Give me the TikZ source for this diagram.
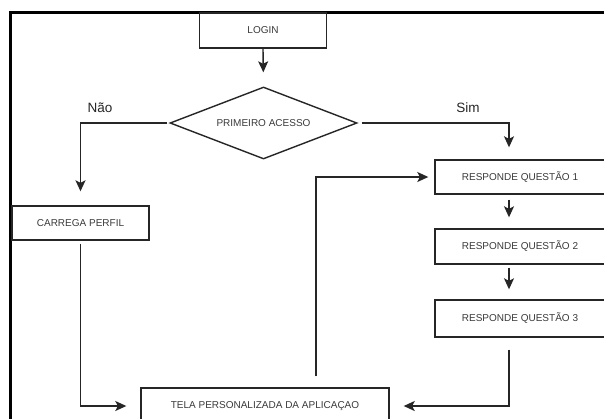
\documentclass[tikz,border=0pt]{standalone}
\usepackage{fontspec}
\setmainfont{Liberation Sans}
\usepackage{xcolor}
\usepackage{tikz}
\usetikzlibrary{arrows.meta,shapes.geometric}
\definecolor{inkline}{HTML}{262626}
\definecolor{inktext}{HTML}{3A3A3A}
\tikzset{
  box/.style={draw=inkline, fill=white, line width=1.4pt, align=center, inner sep=0pt, text=inktext, font=\fontsize{10}{12}\selectfont},
  decision/.style={diamond, draw=inkline, fill=white, line width=1.4pt, inner sep=0pt, aspect=2.6, text=inktext, font=\fontsize{10}{12}\selectfont, minimum width=187pt, minimum height=72pt},
  answer/.style={font=\fontsize{13.5}{15}\selectfont, text=black!85},
  flow/.style={-{Stealth[length=11pt,width=10pt,inset=2.5pt]}, line width=1.4pt, draw=inkline},
  frame/.style={line width=3pt, draw=black}
}

\begin{document}
\begin{tikzpicture}[x=1pt,y=-1pt]
  \useasboundingbox[fill=white] (0,0) rectangle (604,418);
  % window border, open to the right and bottom
  \draw[frame] (10,440) -- (10,12.5) -- (630,12.5);
  % boxes
  \node[box, minimum width=127pt, minimum height=35pt] (login) at (263,30.5) {LOGIN};
  \node[decision] (acesso) at (263.5,123) {PRIMEIRO ACESSO};
  \node[box, minimum width=137pt, minimum height=34pt] (perfil) at (80.5,223) {CARREGA PERFIL};
  \node[box, minimum width=170pt, minimum height=34pt] (q1) at (520,177) {RESPONDE QUESTÃO 1};
  \node[box, minimum width=170pt, minimum height=35pt] (q2) at (520,246.5) {RESPONDE QUESTÃO 2};
  \node[box, minimum width=170pt, minimum height=37pt] (q3) at (520,318.5) {RESPONDE QUESTÃO 3};
  \node[box, minimum width=248pt, minimum height=36pt] (tela) at (265,406) {TELA PERSONALIZADA DA APLICAÇAO};
  % guide columns for the bent connectors
  \coordinate (col) at (509,0);
  \coordinate (loopx) at (316,0);
  % branch labels
  \node[answer] (nao) at (100,108) {Não};
  \node[answer] (sim) at (468,108) {Sim};
  % connectors
  \draw[flow, shorten >=14pt] (login.south) -- (acesso.north);
  \draw[flow, shorten <=2pt, shorten >=14pt] (acesso.west) -| (perfil.north);
  \draw[flow, shorten <=4pt, shorten >=12pt] (acesso.east) -| (col |- q1.north);
  \draw[flow, shorten <=5pt, shorten >=11pt] (col |- q1.south) -- (col |- q2.north);
  \draw[flow, shorten <=3pt, shorten >=10pt] (col |- q2.south) -- (col |- q3.north);
  \draw[flow, shorten <=12pt, shorten >=14pt] (col |- q3.south) |- (tela.east);
  \draw[flow, shorten <=3pt, shorten >=14pt] (perfil.south) |- (tela.west);
  \draw[flow, shorten <=11pt, shorten >=6pt] (loopx |- tela.north) |- (q1.west);
\end{tikzpicture}
\end{document}
